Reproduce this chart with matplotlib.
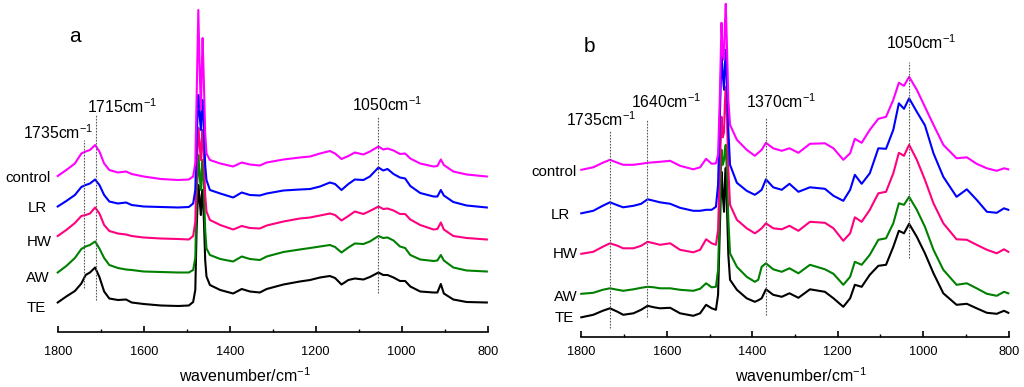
from __future__ import annotations

import matplotlib

matplotlib.use("Agg")
import matplotlib.pyplot as plt
from matplotlib.ticker import MultipleLocator

plt.rcParams["font.family"] = ["Liberation Sans", "DejaVu Sans"]
plt.rcParams["mathtext.fontset"] = "custom"
plt.rcParams["mathtext.rm"] = "Liberation Sans"
plt.rcParams["mathtext.default"] = "regular"

SAMPLES = ["TE", "AW", "HW", "LR", "control"]
COLORS = {"TE": "#000000", "AW": "#008000", "HW": "#ff0080", "LR": "#0000ff", "control": "#ff00ff"}

# panel a (stacked spectra, arbitrary units)
WN_A = [1800, 1780, 1760, 1745, 1735, 1725, 1713, 1703, 1692, 1680, 1660, 1641, 1628, 1600, 1560,
        1520, 1495, 1485, 1480, 1477, 1473, 1470, 1467, 1465, 1463, 1460, 1457, 1454, 1446, 1422,
        1392, 1372, 1353, 1330, 1314, 1275, 1237, 1213, 1190, 1167, 1155, 1140, 1124, 1109, 1089,
        1074, 1054, 1043, 1033, 1019, 1004, 992, 980, 957, 926, 917, 909, 902, 880, 849, 802]
A_CONTROL = [1.555, 1.615, 1.68, 1.78, 1.80, 1.815, 1.865, 1.80, 1.68, 1.615, 1.59, 1.60, 1.575, 1.55, 1.525,
             1.515, 1.52, 1.55, 1.685, 2.315, 3.215, 2.655, 2.215, 2.615, 2.935, 2.485, 1.985, 1.78, 1.715, 1.68,
             1.65, 1.69, 1.67, 1.66, 1.69, 1.72, 1.74, 1.75, 1.78, 1.805, 1.78, 1.725, 1.755, 1.79, 1.77,
             1.80, 1.85, 1.82, 1.83, 1.81, 1.775, 1.78, 1.73, 1.68, 1.65, 1.655, 1.72, 1.665, 1.60, 1.57, 1.55]
A_LR = [1.25, 1.305, 1.365, 1.445, 1.465, 1.48, 1.52, 1.465, 1.365, 1.30, 1.28, 1.29, 1.265, 1.25, 1.245,
        1.24, 1.245, 1.28, 1.415, 1.915, 2.365, 2.165, 2.015, 2.215, 2.315, 2.015, 1.665, 1.515, 1.415, 1.38,
        1.34, 1.39, 1.365, 1.36, 1.38, 1.41, 1.42, 1.425, 1.45, 1.49, 1.475, 1.415, 1.475, 1.52, 1.515,
        1.55, 1.64, 1.61, 1.625, 1.575, 1.54, 1.53, 1.455, 1.385, 1.35, 1.35, 1.415, 1.36, 1.295, 1.26, 1.24]
A_HW = [0.955, 1.015, 1.085, 1.155, 1.165, 1.18, 1.24, 1.18, 1.065, 1.005, 0.98, 0.97, 0.955, 0.94, 0.93,
        0.925, 0.92, 0.955, 1.095, 1.615, 2.035, 1.865, 1.715, 1.915, 2.015, 1.715, 1.365, 1.20, 1.115, 1.065,
        1.02, 1.055, 1.035, 1.03, 1.06, 1.10, 1.13, 1.14, 1.16, 1.18, 1.165, 1.11, 1.155, 1.20, 1.175,
        1.205, 1.25, 1.225, 1.23, 1.21, 1.175, 1.175, 1.12, 1.065, 1.02, 1.025, 1.09, 1.02, 0.955, 0.935, 0.92]
A_AW = [0.59, 0.655, 0.735, 0.825, 0.85, 0.865, 0.90, 0.83, 0.735, 0.665, 0.635, 0.62, 0.615, 0.60, 0.595,
        0.59, 0.59, 0.615, 0.735, 1.315, 1.765, 1.565, 1.415, 1.615, 1.715, 1.415, 1.015, 0.83, 0.765, 0.725,
        0.70, 0.75, 0.725, 0.715, 0.75, 0.795, 0.82, 0.835, 0.85, 0.865, 0.845, 0.79, 0.84, 0.88, 0.875,
        0.90, 0.955, 0.935, 0.94, 0.91, 0.85, 0.835, 0.765, 0.72, 0.705, 0.71, 0.765, 0.71, 0.64, 0.61, 0.60]
A_TE = [0.29, 0.35, 0.405, 0.48, 0.565, 0.59, 0.64, 0.545, 0.40, 0.33, 0.315, 0.32, 0.29, 0.275, 0.26,
        0.255, 0.26, 0.295, 0.415, 1.015, 1.465, 1.315, 1.165, 1.365, 1.415, 1.115, 0.715, 0.55, 0.465, 0.415,
        0.38, 0.425, 0.40, 0.39, 0.425, 0.47, 0.50, 0.515, 0.54, 0.555, 0.535, 0.47, 0.515, 0.53, 0.52,
        0.545, 0.59, 0.565, 0.565, 0.54, 0.505, 0.505, 0.45, 0.40, 0.39, 0.39, 0.475, 0.38, 0.32, 0.295, 0.29]

# panel b
WN_B = [1800, 1772, 1750, 1733, 1715, 1702, 1678, 1660, 1645, 1630, 1616, 1592, 1569, 1538, 1522,
        1508, 1495, 1485, 1480, 1476, 1472, 1469, 1466, 1464, 1462, 1459, 1456, 1452, 1436, 1413,
        1394, 1386, 1378, 1368, 1351, 1331, 1313, 1292, 1265, 1230, 1210, 1187, 1171, 1160, 1144,
        1125, 1105, 1087, 1070, 1057, 1045, 1033, 1015, 996, 976, 953, 922, 898, 875, 851,
        828, 811, 801]
B_CONTROL = [1.675, 1.70, 1.745, 1.775, 1.745, 1.725, 1.725, 1.735, 1.745, 1.75, 1.755, 1.765, 1.715, 1.68, 1.70,
             1.785, 1.735, 1.74, 1.825, 2.375, 3.145, 2.825, 2.775, 3.125, 3.335, 2.875, 2.375, 2.125, 1.975, 1.875,
             1.815, 1.845, 1.875, 1.945, 1.89, 1.865, 1.89, 1.845, 1.935, 1.94, 1.89, 1.775, 1.84, 1.985, 1.945,
             2.075, 2.185, 2.205, 2.375, 2.545, 2.515, 2.605, 2.475, 2.305, 2.125, 1.925, 1.79, 1.80, 1.735, 1.69,
             1.665, 1.69, 1.68]
B_LR = [1.24, 1.265, 1.315, 1.35, 1.32, 1.30, 1.315, 1.335, 1.38, 1.365, 1.35, 1.335, 1.295, 1.265, 1.265,
        1.275, 1.275, 1.305, 1.525, 2.175, 2.825, 2.625, 2.475, 2.725, 2.875, 2.525, 2.075, 1.725, 1.545, 1.465,
        1.425, 1.448, 1.475, 1.58, 1.50, 1.475, 1.535, 1.455, 1.50, 1.485, 1.415, 1.365, 1.475, 1.625, 1.535,
        1.64, 1.89, 1.885, 2.075, 2.34, 2.285, 2.39, 2.255, 2.12, 1.84, 1.605, 1.405, 1.48, 1.375, 1.255,
        1.245, 1.29, 1.275]
B_HW = [0.835, 0.855, 0.905, 0.94, 0.915, 0.89, 0.89, 0.915, 0.955, 0.94, 0.925, 0.94, 0.875, 0.85, 0.875,
        0.98, 0.94, 0.925, 1.075, 1.675, 2.205, 2.0, 2.05, 2.35, 2.505, 2.175, 1.675, 1.325, 1.175, 1.09,
        1.04, 1.063, 1.09, 1.14, 1.09, 1.08, 1.115, 1.065, 1.155, 1.145, 1.09, 0.965, 1.04, 1.20, 1.155,
        1.275, 1.44, 1.455, 1.64, 1.845, 1.815, 1.925, 1.775, 1.575, 1.34, 1.14, 0.98, 0.975, 0.925, 0.875,
        0.84, 0.88, 0.855]
B_AW = [0.435, 0.445, 0.475, 0.49, 0.475, 0.465, 0.48, 0.495, 0.505, 0.50, 0.49, 0.49, 0.475, 0.465, 0.485,
        0.54, 0.50, 0.505, 0.675, 1.275, 1.875, 1.725, 1.775, 1.875, 1.925, 1.625, 1.175, 0.84, 0.705, 0.605,
        0.555, 0.575, 0.705, 0.74, 0.68, 0.655, 0.69, 0.64, 0.725, 0.68, 0.635, 0.525, 0.605, 0.755, 0.725,
        0.825, 0.975, 0.99, 1.14, 1.34, 1.325, 1.405, 1.275, 1.105, 0.875, 0.675, 0.525, 0.54, 0.49, 0.435,
        0.415, 0.455, 0.44]
B_TE = [0.20, 0.225, 0.265, 0.29, 0.255, 0.225, 0.24, 0.275, 0.315, 0.30, 0.29, 0.295, 0.24, 0.215, 0.24,
        0.325, 0.29, 0.275, 0.425, 1.075, 1.655, 1.425, 1.255, 1.575, 1.695, 1.275, 0.825, 0.575, 0.475, 0.39,
        0.355, 0.37, 0.39, 0.48, 0.425, 0.405, 0.44, 0.395, 0.48, 0.455, 0.39, 0.305, 0.39, 0.525, 0.505,
        0.625, 0.715, 0.725, 0.905, 1.065, 1.04, 1.135, 1.005, 0.84, 0.64, 0.44, 0.325, 0.335, 0.29, 0.245,
        0.235, 0.265, 0.245]

# band markers: (wavenumber, y from, y to, label, label x, label y)
MARKS_A = [
    (1739, 0.435, 1.915, "1735", 1798, 1.985),
    (1712, 0.315, 2.165, "1715", 1650, 2.245),
    (1054, 0.385, 2.145, "1050", 1035, 2.265),
]
MARKS_B = [
    (1732, 0.093, 2.073, "1735", 1754, 2.173),
    (1646, 0.203, 2.173, "1640", 1602, 2.353),
    (1369, 0.223, 2.203, "1370", 1333, 2.353),
    (1034, 0.793, 2.753, "1050", 1005, 2.943),
]
# sample name positions (right edge x, y)
NAMES_A = {"control": (1817, 1.533), "LR": (1826, 1.232), "HW": (1814, 0.892), "AW": (1820, 0.532), "TE": (1828, 0.232)}
NAMES_B = {"control": (1812, 1.656), "LR": (1826, 1.223), "HW": (1808, 0.833), "AW": (1808, 0.406), "TE": (1818, 0.19)}


def draw_panel(fig, rect, ylim, wn, series, marks, names, letter, letter_xy, label_xy, tick_pad):
    ax = fig.add_axes(rect)
    for name in SAMPLES:
        ax.plot(wn, series[name], color=COLORS[name], lw=1.5, solid_joinstyle="round", clip_on=False)
    for x, y0, y1, txt, tx, ty in marks:
        ax.plot([x, x], [y0, y1], color="0.35", lw=0.8, ls=(0, (1.5, 1.2)))
        ax.text(tx, ty, txt + "cm$^{-1}$", ha="center", va="center", fontsize=11.3)
    for name, (tx, ty) in names.items():
        ax.text(tx, ty, name, ha="right", va="center", fontsize=10.8, clip_on=False)
    ax.text(letter_xy[0], letter_xy[1], letter, ha="center", va="center", fontsize=15)

    ax.set_xlim(1800, 800)
    ax.set_ylim(*ylim)
    for side in ("top", "left", "right"):
        ax.spines[side].set_visible(False)
    ax.spines["bottom"].set_linewidth(1.2)
    ax.set_yticks([])
    ax.xaxis.set_major_locator(MultipleLocator(200))
    ax.xaxis.set_minor_locator(MultipleLocator(100))
    ax.tick_params(axis="x", which="major", direction="in", length=4.3, width=1.2, pad=tick_pad, labelsize=9.2)
    ax.tick_params(axis="x", which="minor", direction="in", length=2.3, width=1.0)
    ax.set_xlabel("wavenumber/cm$^{-1}$", fontsize=11.5)
    ax.xaxis.set_label_coords(*label_xy)
    ax.patch.set_alpha(0)
    return ax


def main() -> int:
    fig = plt.figure(figsize=(10.24, 3.87), dpi=100)
    series_a = {"control": A_CONTROL, "LR": A_LR, "HW": A_HW, "AW": A_AW, "TE": A_TE}
    series_b = {"control": B_CONTROL, "LR": B_LR, "HW": B_HW, "AW": B_AW, "TE": B_TE}
    draw_panel(fig, [57.7 / 1024, 55.5 / 387, 430 / 1024, 331.5 / 387], (0, 3.315),
               WN_A, series_a, MARKS_A, NAMES_A, "a", (1760, 2.945), (0.436, -0.105), 10.5)
    draw_panel(fig, [581.3 / 1024, 49.7 / 387, 427.4 / 1024, 337.3 / 387], (0, 3.373),
               WN_B, series_b, MARKS_B, NAMES_B, "b", (1780, 2.903), (0.514, -0.087), 6.0)
    fig.savefig("out.png", dpi=100)
    plt.close(fig)
    return 0


if __name__ == "__main__":
    raise SystemExit(main())
